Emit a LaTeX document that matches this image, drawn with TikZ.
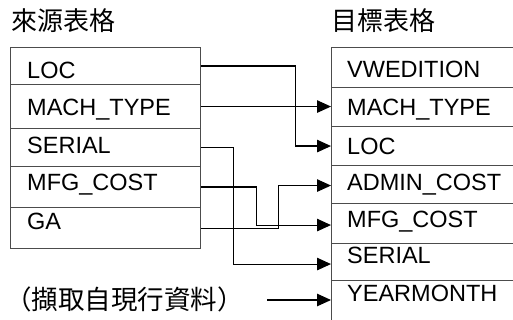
\documentclass[tikz,border=0pt]{standalone}
\usepackage{fontspec}
\setmainfont{Liberation Sans}
\newfontfamily\cjk{Noto Sans CJK TC}
\usetikzlibrary{arrows.meta,calc}
\begin{document}
\begin{tikzpicture}[x=1pt,y=-1pt,
  row/.style={draw=black!70,line width=1.1pt,minimum width=#1,inner sep=0pt,anchor=north west},
  lbl/.style={font=\fontsize{23.5}{26}\selectfont,anchor=base west,inner sep=0pt},
  ttl/.style={font=\cjk\fontsize{26}{30}\selectfont,anchor=west,inner sep=0pt},
  arr/.style={line width=1.1pt,-{Triangle[length=14pt,width=12.5pt]}},
  conn/.style={line width=1.1pt}]
\useasboundingbox (0,0) rectangle (513,320);
\clip (0,0) rectangle (513,320);
% titles
\node[ttl] (tsrc) at (11,21) {來源表格};
\node[ttl] (ttgt) at (331,21) {目標表格};
\node[ttl,font=\cjk\fontsize{26.5}{30}\selectfont] (note) at (5,299) {（擷取自現行資料）};
% source table
\node[row=190pt,minimum height=37pt] (sLOC) at (10,47) {};
\node[row=190pt,minimum height=44pt] (sMACH) at (10,84) {};
\node[row=190pt,minimum height=38pt] (sSER) at (10,128) {};
\node[row=190pt,minimum height=41pt] (sMFG) at (10,166) {};
\node[row=190pt,minimum height=41pt] (sGA) at (10,207) {};
\node[lbl] (lsLOC) at (27,78.4) {LOC};
\node[lbl] (lsMACH) at (27,115.4) {MACH\_TYPE};
\node[lbl] (lsSER) at (27,153.4) {SERIAL};
\node[lbl] (lsMFG) at (27,190.4) {MFG\_COST};
\node[lbl] (lsGA) at (27,229.4) {GA};
% target table
\node[row=200pt,minimum height=40pt] (tVW) at (331,47) {};
\node[row=200pt,minimum height=39pt] (tMACH) at (331,87) {};
\node[row=200pt,minimum height=39pt] (tLOC) at (331,126) {};
\node[row=200pt,minimum height=38pt] (tADM) at (331,165) {};
\node[row=200pt,minimum height=40pt] (tMFG) at (331,203) {};
\node[row=200pt,minimum height=37pt] (tSER) at (331,243) {};
\node[row=200pt,minimum height=50pt] (tYEAR) at (331,280) {};
\node[lbl] (ltVW) at (347,77.9) {VWEDITION};
\node[lbl] (ltMACH) at (347,115.9) {MACH\_TYPE};
\node[lbl] (ltLOC) at (347,154.4) {LOC};
\node[lbl] (ltADM) at (347,190.4) {ADMIN\_COST};
\node[lbl] (ltMFG) at (347,227.4) {MFG\_COST};
\node[lbl] (ltSER) at (347,263.4) {SERIAL};
\node[lbl] (ltYEAR) at (347,301.4) {YEARMONTH};
% connectors
\draw[arr] (sLOC.east) -- ++(94,0) |- (tLOC.west);
\draw[arr] (sMACH.east) -- (sMACH.east -| tMACH.west);
\draw[arr] (sSER.east) -- ++(32,0) |- ([yshift=-2pt]tSER.west);
\draw[arr] (sMFG.east) -- ++(55,0) |- ([yshift=-1.5pt]tMFG.west);
\draw[arr] (sGA.east) -- ++(77,0) |- ([yshift=-1pt]tADM.west);
\coordinate (ystart) at ($(tYEAR.west)+(-64,0)$);
\draw[arr] (ystart |- 0,300) -- (tYEAR.west |- 0,300);
\end{tikzpicture}
\end{document}
